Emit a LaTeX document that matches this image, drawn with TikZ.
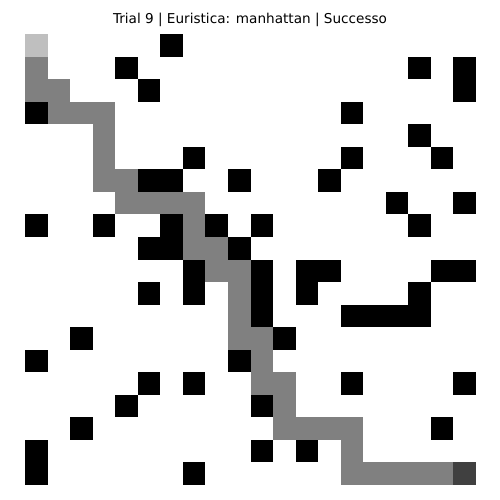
\documentclass[tikz,border=0pt]{standalone}
\usepackage{fontspec}
\setmainfont{DejaVu Sans}
\begin{document}
\begin{tikzpicture}[x=1pt,y=-1pt,
  cellstyle/.style={draw=none},
  titlestyle/.style={font=\fontsize{13.6}{16}\selectfont, inner sep=0pt}]
\useasboundingbox (0,0) rectangle (500,500);
\fill[white] (0,0) rectangle (500,500);
\def\cs{22.55}
\def\ox{25}
\def\oy{34}
% obstacles
\foreach \c/\r in {6/0, 4/1,17/1,19/1, 5/2,19/2, 0/3,14/3, 17/4, 7/5,14/5,18/5,
  5/6,6/6,9/6,13/6, 16/7,19/7, 0/8,3/8,6/8,8/8,10/8,17/8, 5/9,6/9,9/9,
  7/10,10/10,12/10,13/10,18/10,19/10, 5/11,7/11,10/11,12/11,17/11,
  10/12,14/12,15/12,16/12,17/12, 2/13,11/13, 0/14,9/14, 5/15,7/15,14/15,19/15,
  4/16,10/16, 2/17,18/17, 0/18,10/18,12/18, 0/19,7/19}
  \fill[black] ({\ox+\c*\cs},{\oy+\r*\cs}) rectangle ++(\cs,\cs);
% path
\foreach \c/\r in {0/1,0/2,1/2,1/3,2/3,3/3,3/4,3/5,3/6,4/6,4/7,5/7,6/7,7/7,7/8,7/9,8/9,
  8/10,9/10,9/11,9/12,9/13,10/13,10/14,10/15,11/15,11/16,11/17,12/17,13/17,14/17,
  14/18,14/19,15/19,16/19,17/19,18/19}
  \fill[black!50] ({\ox+\c*\cs},{\oy+\r*\cs}) rectangle ++(\cs,\cs);
% start and goal
\fill[black!25] (\ox,\oy) rectangle ++(\cs,\cs);
\fill[black!75] ({\ox+19*\cs},{\oy+19*\cs}) rectangle ++(\cs,\cs);
\node[titlestyle] (title) at (250,20) {Trial 9 | Euristica: manhattan | Successo};
\end{tikzpicture}
\end{document}
